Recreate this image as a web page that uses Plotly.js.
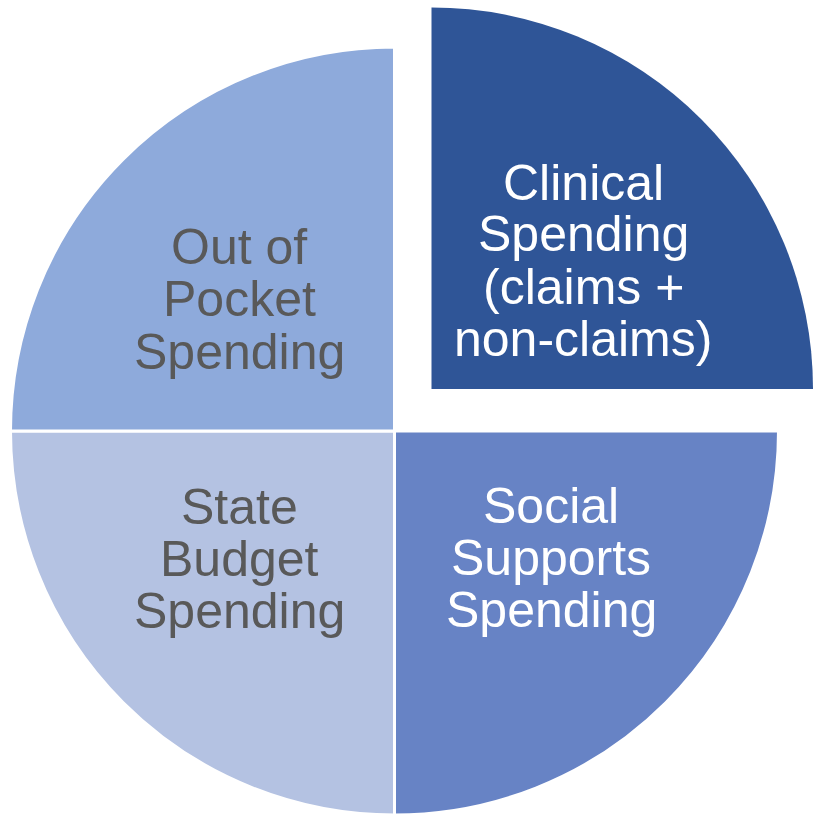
<!DOCTYPE html>
<html><head><meta charset="utf-8">
<script src="https://cdn.plot.ly/plotly-3.0.1.min.js"></script>
<style>html,body{margin:0;padding:0;background:#fff}</style>
</head><body><div id="chart" style="width:813px;height:816px"></div>
<script>
const categories = ['Clinical Spending (claims + non-claims)', 'Social Supports Spending', 'State Budget Spending', 'Out of Pocket Spending'];
const values = [25, 25, 25, 25];
const labelLines = [
  ['Clinical', 'Spending', '(claims +', 'non-claims)'],
  ['Social', 'Supports', 'Spending'],
  ['State', 'Budget', 'Spending'],
  ['Out of', 'Pocket', 'Spending']
];
const sliceColors = ['#2F5597', '#6783C5', '#B4C2E2', '#8EAADB'];
const textColors = ['#FFFFFF', '#FFFFFF', '#595959', '#595959'];

const W = 813, H = 816;
// label placement: [center x px, first-line baseline px]
const labelPos = [[583, 200], [551, 523], [239, 524], [239, 265]];
const lineGap = 52;
const fontSize = 50;

const mainColors = sliceColors.map((c, i) => i === 0 ? 'rgba(0,0,0,0)' : c);
const pulledColors = sliceColors.map((c, i) => i === 0 ? c : 'rgba(0,0,0,0)');

const mainPie = {
  type: 'pie', labels: categories, values: values, sort: false,
  direction: 'clockwise', rotation: 0,
  marker: {colors: mainColors, line: {color: '#FFFFFF', width: 3}},
  textinfo: 'none', hoverinfo: 'none', showlegend: false,
  domain: {x: [10.5 / W, 778.5 / W], y: [1 / H, 769 / H]}
};
const pulledPie = {
  type: 'pie', labels: categories, values: values, sort: false,
  direction: 'clockwise', rotation: 0,
  marker: {colors: pulledColors, line: {color: 'rgba(0,0,0,0)', width: 0}},
  textinfo: 'none', hoverinfo: 'none', showlegend: false,
  domain: {x: [50 / W, 1], y: [(H - 770.5) / H, (H - 7.5) / H]}
};

const annotations = [];
labelLines.forEach((lines, i) => {
  lines.forEach((t, j) => {
    const baseline = labelPos[i][1] + j * lineGap;
    annotations.push({
      text: t, showarrow: false, xref: 'paper', yref: 'paper',
      x: labelPos[i][0] / W, y: 1 - (baseline - 17.5) / H,
      xanchor: 'center', yanchor: 'middle',
      font: {family: 'Liberation Sans, Arial, sans-serif', size: fontSize, color: textColors[i]}
    });
  });
});

const layout = {
  width: W, height: H, margin: {l: 0, r: 0, t: 0, b: 0},
  paper_bgcolor: '#FFFFFF', plot_bgcolor: '#FFFFFF',
  showlegend: false, annotations: annotations
};
Plotly.newPlot('chart', [mainPie, pulledPie], layout, {displayModeBar: false, staticPlot: true});
</script></body></html>
